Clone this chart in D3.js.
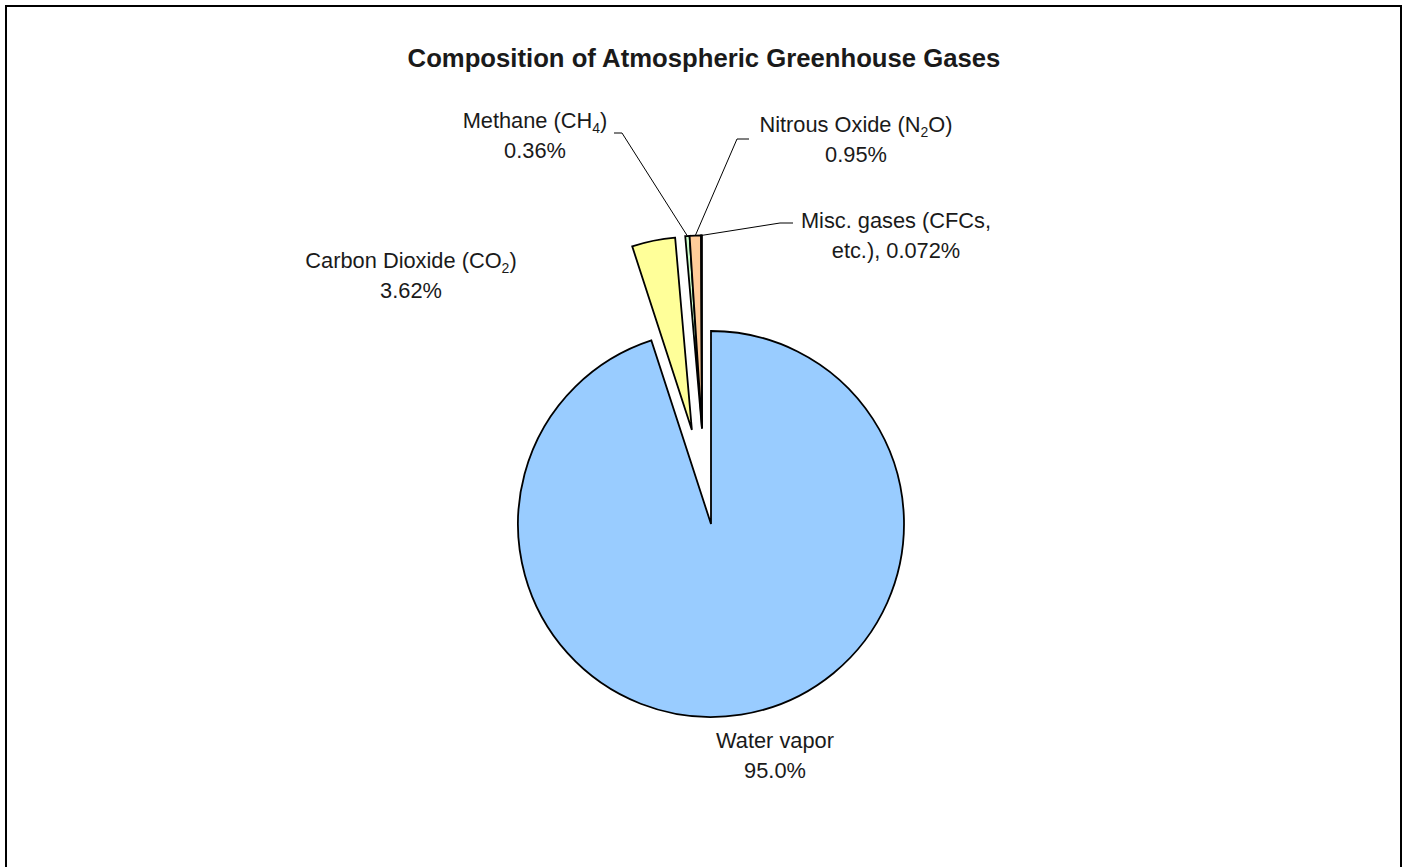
<!DOCTYPE html>
<html>
<head>
<meta charset="utf-8">
<script src="https://cdn.jsdelivr.net/npm/d3@7"></script>
<style>
  html, body { margin: 0; padding: 0; background: #fff; }
  svg { display: block; }
  text { font-family: "Liberation Sans", Arial, sans-serif; fill: #1a1a1a; }
</style>
</head>
<body>
<svg id="chart" width="1404" height="867"></svg>
<script>
// ---- data ----
const title = "Composition of Atmospheric Greenhouse Gases";
const categories = ["Water vapor", "Carbon Dioxide (CO{2})", "Methane (CH{4})", "Nitrous Oxide (N{2}O)", "Misc. gases (CFCs, etc.)"];
const values = [95.0, 3.62, 0.36, 0.95, 0.072];
const valueLabels = ["95.0%", "3.62%", "0.36%", "0.95%", "0.072%"];
const colors = ["#99CCFF", "#FFFF99", "#CCFFCC", "#FFCC99", "#666699"];

// ---- layout ----
const W = 1404, H = 867;
const cx = 711, cy = 524, R = 193;
const explode = [0, 96, 96, 96, 96];
// explosion direction override in degrees (null = slice mid-angle)
const explodeDir = [null, null, 354.6, 354.6, 354.6];
// label: center x, first baseline y, optional custom line break
const labelLayout = [
  { x: 775, y: 748 },
  { x: 411, y: 268 },
  { x: 535, y: 128 },
  { x: 856, y: 132 },
  { x: 896, y: 228, lines: ["Misc. gases (CFCs,", "etc.), {VAL}"] }
];
// leader elbows (start, elbow) for labels that have leader lines
const leaders = [null, null, [[614, 133], [622, 133]], [[749, 139], [737, 139]], [[793, 223], [780, 223]]];
const lineGap = 30;

const svg = d3.select("#chart");

// outer border
svg.append("rect")
  .attr("x", 6).attr("y", 6).attr("width", 1395).attr("height", 900)
  .attr("fill", "none").attr("stroke", "#000").attr("stroke-width", 2);

// title
svg.append("text")
  .attr("x", 704).attr("y", 67)
  .attr("text-anchor", "middle")
  .style("font-size", "25.7px").style("font-weight", "bold")
  .text(title);

const pie = d3.pie().sort(null).value(d => d).startAngle(0).endAngle(2 * Math.PI);
const arcs = pie(values);
const arc = d3.arc().innerRadius(0).outerRadius(R);

const g = svg.append("g").attr("transform", `translate(${cx},${cy})`);

function offset(a, i) {
  const dir = explodeDir[i] != null ? explodeDir[i] * Math.PI / 180 : (a.startAngle + a.endAngle) / 2;
  return [explode[i] * Math.sin(dir), -explode[i] * Math.cos(dir)];
}

g.selectAll("path.slice")
  .data(arcs)
  .join("path")
  .attr("class", "slice")
  .attr("d", arc)
  .attr("transform", (d, i) => { const o = offset(d, i); return `translate(${o[0]},${o[1]})`; })
  .attr("fill", (d, i) => colors[i])
  .attr("stroke", "#000")
  .attr("stroke-width", 1.8)
  .attr("stroke-linejoin", "miter");

// leader lines
arcs.forEach((a, i) => {
  if (!leaders[i]) return;
  const o = offset(a, i);
  const mid = (a.startAngle + a.endAngle) / 2;
  const px = cx + o[0] + R * Math.sin(mid);
  const py = cy + o[1] - R * Math.cos(mid);
  const pts = leaders[i].concat([[px, py]]);
  svg.append("path")
    .attr("d", d3.line()(pts))
    .attr("fill", "none").attr("stroke", "#000").attr("stroke-width", 1);
});

// labels with subscript support: "{x}" -> subscript
function addRich(textSel, str) {
  const parts = str.split(/(\{[^}]*\})/).filter(s => s.length);
  let pending = 0;
  parts.forEach(p => {
    if (p.startsWith("{")) {
      textSel.append("tspan").attr("dy", 5).style("font-size", "14px").text(p.slice(1, -1));
      pending = -5;
    } else {
      const ts = textSel.append("tspan").text(p);
      if (pending) { ts.attr("dy", pending); pending = 0; }
    }
  });
}

arcs.forEach((a, i) => {
  const L = labelLayout[i];
  const lines = L.lines ? L.lines.map(s => s.replace("{VAL}", valueLabels[i])) : [categories[i], valueLabels[i]];
  lines.forEach((ln, k) => {
    const t = svg.append("text")
      .attr("x", L.x).attr("y", L.y + k * lineGap)
      .attr("text-anchor", "middle")
      .style("font-size", "21.8px");
    addRich(t, ln);
  });
});
</script>
</body>
</html>
